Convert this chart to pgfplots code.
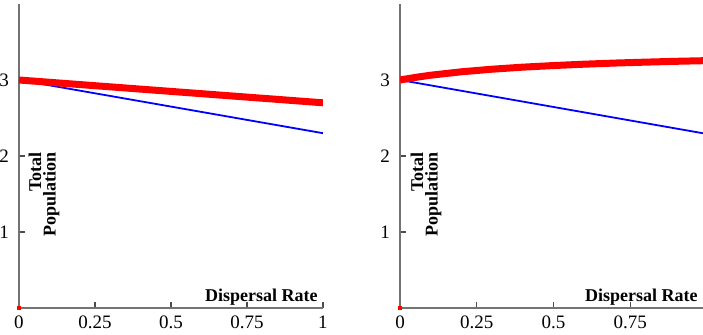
\documentclass[border=0pt]{standalone}
\usepackage{pgfplots}
\pgfplotsset{compat=1.18}
\usepackage{fontspec}
\setmainfont{Liberation Serif}
\pgfplotstableread{
x y
0 3.0
1 2.70
}\leftred
\pgfplotstableread{
x y
0 3.0
1 2.30
}\leftblue
\pgfplotstableread{
x y
0 3.000
0.05 3.034
0.1 3.063
0.2 3.108
0.3 3.142
0.4 3.169
0.5 3.190
0.6 3.208
0.7 3.223
0.8 3.235
0.9 3.246
1.0 3.255
}\rightred
\pgfplotstableread{
x y
0 3.0
1 2.29
}\rightblue
\pgfplotsset{
  panel/.style={
    scale only axis,
    height=152pt,
    ymin=0, ymax=4,
    ytick={1,2,3},
    axis x line*=bottom,
    axis y line*=left,
    axis line style={black!55, line width=0.6pt},
    tick style={black!70, line width=0.6pt},
    tick align=inside,
    major tick length=3pt,
    ticklabel style={font=\fontsize{9.5}{10}\selectfont},
    /pgf/number format/assume math mode=true,
    xticklabel style={yshift=-0.5pt},
    yticklabel style={xshift=-1.5pt},
  },
}
\tikzset{
  redline/.style={red, line width=3.5pt},
  blueline/.style={blue, line width=0.9pt},
  ylab/.style={rotate=90, anchor=north east, inner sep=0pt, align=right, font=\fontsize{9}{7.3}\selectfont\bfseries},
  xlab/.style={anchor=base east, inner sep=0pt, font=\fontsize{9}{10}\selectfont\bfseries},
}
\begin{document}
\begin{tikzpicture}
\useasboundingbox (-9.5pt,-13.5pt) rectangle (342pt,154pt);
\begin{axis}[panel, width=152pt, xmin=0, xmax=1,
  xtick={0,0.25,0.5,0.75,1}, xticklabels={0,0.25,0.5,0.75,1},
  at={(0pt,0pt)}, anchor=south west]
\addplot[blueline] table[x=x,y=y] {\leftblue};
\addplot[redline] table[x=x,y=y] {\leftred};
\addplot[red, only marks, mark=square*, mark size=0.6pt] coordinates {(0,0)};
\node[ylab] at (axis cs:0.03,2.05) {Total\\Population};
\node[xlab] at ([xshift=-2.5pt,yshift=3pt]rel axis cs:1,0) {Dispersal Rate};
\end{axis}
\begin{axis}[panel, width=151.5pt, xmin=0, xmax=0.987,
  xtick={0,0.25,0.5,0.75}, xticklabels={0,0.25,0.5,0.75},
  at={(190.5pt,0pt)}, anchor=south west]
\addplot[blueline] table[x=x,y=y] {\rightblue};
\addplot[redline] table[x=x,y=y] {\rightred};
\addplot[red, only marks, mark=square*, mark size=0.6pt] coordinates {(0,0)};
\node[ylab] at (axis cs:0.033,2.05) {Total\\Population};
\node[xlab] at ([xshift=-2.5pt,yshift=3pt]rel axis cs:1,0) {Dispersal Rate};
\end{axis}
\end{tikzpicture}
\end{document}
